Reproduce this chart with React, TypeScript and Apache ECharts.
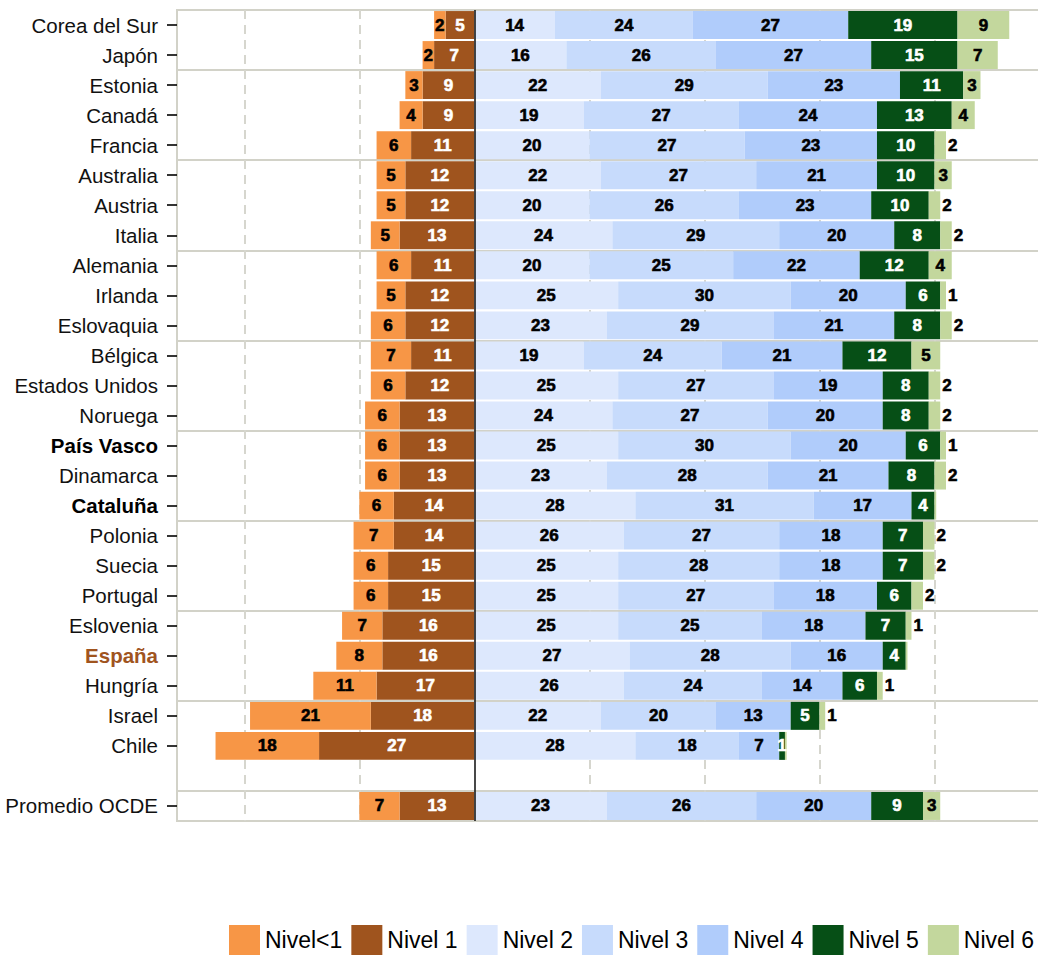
import React, { useEffect, useRef } from "react";
import * as echarts from "echarts";

// ---- Data ----
const categories = [
  "Corea del Sur", "Japón", "Estonia", "Canadá", "Francia", "Australia", "Austria", "Italia",
  "Alemania", "Irlanda", "Eslovaquia", "Bélgica", "Estados Unidos", "Noruega", "País Vasco",
  "Dinamarca", "Cataluña", "Polonia", "Suecia", "Portugal", "Eslovenia", "España", "Hungría",
  "Israel", "Chile", "", "Promedio OCDE",
];

const nivelMenos1 = [2, 2, 3, 4, 6, 5, 5, 5, 6, 5, 6, 7, 6, 6, 6, 6, 6, 7, 6, 6, 7, 8, 11, 21, 18, null, 7];
const nivel1 = [5, 7, 9, 9, 11, 12, 12, 13, 11, 12, 12, 11, 12, 13, 13, 13, 14, 14, 15, 15, 16, 16, 17, 18, 27, null, 13];
const nivel2 = [14, 16, 22, 19, 20, 22, 20, 24, 20, 25, 23, 19, 25, 24, 25, 23, 28, 26, 25, 25, 25, 27, 26, 22, 28, null, 23];
const nivel3 = [24, 26, 29, 27, 27, 27, 26, 29, 25, 30, 29, 24, 27, 27, 30, 28, 31, 27, 28, 27, 25, 28, 24, 20, 18, null, 26];
const nivel4 = [27, 27, 23, 24, 23, 21, 23, 20, 22, 20, 21, 21, 19, 20, 20, 21, 17, 18, 18, 18, 18, 16, 14, 13, 7, null, 20];
const nivel5 = [19, 15, 11, 13, 10, 10, 10, 8, 12, 6, 8, 12, 8, 8, 6, 8, 4, 7, 7, 6, 7, 4, 6, 5, 1, null, 9];
const nivel6 = [9, 7, 3, 4, 2, 3, 2, 2, 4, 1, 2, 5, 2, 2, 1, 2, 0.3, 2, 2, 2, 1, 0.3, 1, 1, 0.3, null, 3];

const levelNames = ["Nivel<1", "Nivel 1", "Nivel 2", "Nivel 3", "Nivel 4", "Nivel 5", "Nivel 6"];
const levelColors = ["#F79646", "#9F541E", "#DDE8FD", "#C7DBFC", "#B0CCFB", "#064F16", "#C3D79D"];
const labelColors = ["#000000", "#FFFFFF", "#000000", "#000000", "#000000", "#FFFFFF", "#000000"];

const gridTicks = [-40, -20, 20, 40, 60, 80];
const boldRegions = ["País Vasco", "Cataluña"];
const highlightRegion = "España";

const FONT = "'Liberation Sans', Arial, Helvetica, sans-serif";
const FRAME = "#D2D2C8";

const fmt = (p: any) => {
  const raw = typeof p.value === "object" && p.value !== null ? p.value.value : p.value;
  if (raw == null) return "";
  const v = Math.abs(raw);
  return v < 0.5 ? "" : String(Math.round(v));
};

function makeSeries(idx: number, values: (number | null)[], sign: number) {
  const isTop = idx === 6;
  return {
    name: levelNames[idx],
    type: "bar",
    stack: "total",
    barCategoryGap: "7%",
    z: 2,
    itemStyle: { color: levelColors[idx], borderWidth: 0 },
    label: {
      show: true,
      position: "inside",
      color: labelColors[idx],
      fontFamily: FONT,
      fontSize: 17,
      fontWeight: "bold",
      textBorderColor: labelColors[idx],
      textBorderWidth: 0.6,
      formatter: fmt,
    },
    data: values.map((v) => {
      if (v == null) return null;
      if (isTop && v <= 2) {
        return {
          value: sign * v,
          label: { position: "right", distance: 2, color: "#000", textBorderColor: "#000" },
        };
      }
      return sign * v;
    }),
  };
}

export default function App() {
  const ref = useRef<HTMLDivElement>(null);

  useEffect(() => {
    if (!ref.current) return;
    const chart = echarts.init(ref.current, undefined, { renderer: "svg" });

    const s1 = makeSeries(1, nivel1, -1);
    const s0 = makeSeries(0, nivelMenos1, -1);
    const s2: any = makeSeries(2, nivel2, 1);
    s2.markLine = {
      silent: true,
      symbol: ["none", "none"],
      label: { show: false },
      lineStyle: { color: "#1a1a1a", width: 1.6, type: "solid" },
      data: [{ xAxis: 0 }],
    };
    const s3 = makeSeries(3, nivel3, 1);
    const s4 = makeSeries(4, nivel4, 1);
    const s5 = makeSeries(5, nivel5, 1);
    const s6 = makeSeries(6, nivel6, 1);

    const option: any = {
      animation: false,
      backgroundColor: "#FFFFFF",
      textStyle: { fontFamily: FONT },
      legend: {
        show: true,
        data: levelNames,
        left: 229,
        top: 925,
        width: 1200,
        orient: "horizontal",
        icon: "rect",
        itemWidth: 31,
        itemHeight: 30,
        itemGap: 9,
        selectedMode: false,
        padding: 0,
        textStyle: { fontSize: 23, color: "#000", fontFamily: FONT },
        itemStyle: { borderWidth: 0 },
      },
      grid: {
        show: true,
        borderColor: FRAME,
        borderWidth: 2,
        backgroundColor: "transparent",
        left: 177,
        top: 10,
        width: 880,
        height: 811,
        containLabel: false,
        outerBoundsMode: "none",
      },
      xAxis: {
        type: "value",
        min: -51.7,
        max: 101.3,
        axisLine: { show: false },
        axisLabel: { show: false },
        axisTick: { show: false, customValues: gridTicks },
        splitLine: {
          show: true,
          lineStyle: { color: "#D6D6CE", width: 2, type: [9, 6] },
        },
      },
      yAxis: {
        type: "category",
        data: categories,
        inverse: true,
        axisLine: { show: true, onZero: false, lineStyle: { color: FRAME, width: 2 } },
        axisTick: {
          show: true,
          alignWithLabel: true,
          length: 10,
          lineStyle: { color: "#000", width: 1.6 },
          interval: (i: number) => categories[i] !== "",
        },
        axisLabel: {
          interval: 0,
          margin: 19,
          fontSize: 20.5,
          color: "#111",
          fontFamily: FONT,
          formatter: (v: string) => {
            if (boldRegions.includes(v)) return `{b|${v}}`;
            if (v === highlightRegion) return `{es|${v}}`;
            return v;
          },
          rich: {
            b: { fontSize: 20.5, fontWeight: "bold", color: "#000", fontFamily: FONT },
            es: { fontSize: 20.5, fontWeight: "bold", color: "#A0541E", fontFamily: FONT },
          },
        },
        splitLine: {
          show: true,
          interval: (i: number) => i % 3 === 2,
          lineStyle: { color: FRAME, width: 2 },
        },
      },
      series: [s1, s0, s2, s3, s4, s5, s6],
    };

    chart.setOption(option);
    return () => chart.dispose();
  }, []);

  return (
    <div
      ref={ref}
      style={{ position: "fixed", left: 0, top: 0, width: 1038, height: 956, background: "#fff" }}
    />
  );
}
